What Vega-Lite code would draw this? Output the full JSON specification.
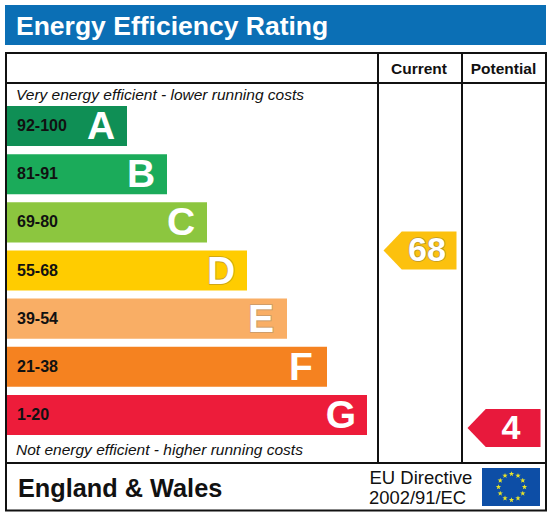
{
  "$schema": "https://vega.github.io/schema/vega-lite/v6.json",
  "width": 550,
  "height": 517,
  "autosize": {"type": "fit", "contains": "padding"},
  "padding": 0,
  "background": "white",
  "config": {"view": {"stroke": null}, "text": {"font": "Liberation Sans"}},
  "data": {"values": [{}]},
  "datasets": {
    "bands": [
      {"grade": "A", "range": "92-100", "length": 120},
      {"grade": "B", "range": "81-91", "length": 160},
      {"grade": "C", "range": "69-80", "length": 200},
      {"grade": "D", "range": "55-68", "length": 240},
      {"grade": "E", "range": "39-54", "length": 280},
      {"grade": "F", "range": "21-38", "length": 320},
      {"grade": "G", "range": "1-20", "length": 360}
    ],
    "ratings": [
      {"column": "Current", "score": 68, "grade": "D"},
      {"column": "Potential", "score": 4, "grade": "G"}
    ]
  },
  "resolve": {"scale": {"x": "independent", "y": "independent", "color": "independent", "stroke": "independent"}},
  "layer": [
    {
      "mark": {"type": "rect", "fill": "#0b6fb5"},
      "encoding": {
        "x": {"datum": 5, "type": "quantitative", "axis": null, "scale": {"domain": [0, 550], "range": [0, 550]}},
        "x2": {"datum": 546},
        "y": {"datum": 5, "type": "quantitative", "axis": null, "scale": {"domain": [0, 517], "range": [0, 517]}},
        "y2": {"datum": 45}
      }
    },
    {
      "mark": {"type": "text", "text": "Energy Efficiency Rating", "fontSize": 26.5, "fontWeight": "bold", "color": "white", "align": "left", "baseline": "alphabetic"},
      "encoding": {
        "x": {"datum": 16, "type": "quantitative", "axis": null, "scale": {"domain": [0, 550], "range": [0, 550]}},
        "y": {"datum": 35, "type": "quantitative", "axis": null, "scale": {"domain": [0, 517], "range": [0, 517]}}
      }
    },
    {
      "mark": {"type": "bar"},
      "data": {"name": "bands"},
      "encoding": {
        "x": {"field": "length", "type": "quantitative", "axis": null, "scale": {"domain": [0, 360], "range": [7, 367]}},
        "y": {"field": "grade", "type": "nominal", "axis": null, "scale": {"type": "band", "domain": ["A", "B", "C", "D", "E", "F", "G"], "range": [106, 435], "paddingInner": 0.1667, "paddingOuter": 0}},
        "color": {"field": "grade", "type": "nominal", "legend": null, "scale": {"domain": ["A", "B", "C", "D", "E", "F", "G"], "range": ["#0f8f55", "#1bab5a", "#8cc63f", "#ffcc00", "#f9ae65", "#f58220", "#ed1c3a"]}}
      }
    },
    {
      "mark": {"type": "text", "fontSize": 16, "fontWeight": "bold", "color": "#111111", "align": "left", "dx": 10},
      "data": {"name": "bands"},
      "encoding": {
        "x": {"datum": 0, "type": "quantitative", "axis": null, "scale": {"domain": [0, 360], "range": [7, 367]}},
        "y": {"field": "grade", "type": "nominal", "axis": null, "scale": {"type": "band", "domain": ["A", "B", "C", "D", "E", "F", "G"], "range": [106, 435], "paddingInner": 0.1667, "paddingOuter": 0}},
        "text": {"field": "range"}
      }
    },
    {
      "mark": {"type": "text", "fontSize": 39, "fontWeight": "bold", "fill": "white", "align": "center", "dx": -26, "dy": 1, "strokeWidth": 1.6},
      "data": {"name": "bands"},
      "encoding": {
        "x": {"field": "length", "type": "quantitative", "axis": null, "scale": {"domain": [0, 360], "range": [7, 367]}},
        "y": {"field": "grade", "type": "nominal", "axis": null, "scale": {"type": "band", "domain": ["A", "B", "C", "D", "E", "F", "G"], "range": [106, 435], "paddingInner": 0.1667, "paddingOuter": 0}},
        "stroke": {"field": "grade", "type": "nominal", "legend": null, "scale": {"domain": ["A", "B", "C", "D", "E", "F", "G"], "range": ["#0f8f55", "#1bab5a", "#8cc63f", "#c9a11a", "#c99a6a", "#f58220", "#ed1c3a"]}},
        "text": {"field": "grade"}
      }
    },
    {
      "mark": {"type": "text", "fontSize": 39, "fontWeight": "bold", "fill": "white", "align": "center", "dx": -26, "dy": 1},
      "data": {"name": "bands"},
      "encoding": {
        "x": {"field": "length", "type": "quantitative", "axis": null, "scale": {"domain": [0, 360], "range": [7, 367]}},
        "y": {"field": "grade", "type": "nominal", "axis": null, "scale": {"type": "band", "domain": ["A", "B", "C", "D", "E", "F", "G"], "range": [106, 435], "paddingInner": 0.1667, "paddingOuter": 0}},
        "text": {"field": "grade"}
      }
    },
    {
      "mark": {"type": "point", "filled": true, "opacity": 1, "shape": "M-1,0 L-0.5,-0.52 L1,-0.52 L1,0.52 L-0.5,0.52 Z", "size": 5329},
      "data": {"name": "ratings"},
      "encoding": {
        "x": {"field": "column", "type": "nominal", "axis": null, "scale": {"type": "point", "domain": ["Current", "Potential"], "range": [420, 504], "padding": 0}},
        "y": {"field": "score", "type": "quantitative", "axis": null, "scale": {"domain": [0, 100], "range": [439.1, 161.7]}},
        "color": {"field": "grade", "type": "nominal", "legend": null, "scale": {"domain": ["D", "G"], "range": ["#fcc10e", "#e8193c"]}}
      }
    },
    {
      "mark": {"type": "text", "fontSize": 34, "fontWeight": "bold", "fill": "white", "align": "center", "dx": 7, "dy": 1, "strokeWidth": 1.6},
      "data": {"name": "ratings"},
      "encoding": {
        "x": {"field": "column", "type": "nominal", "axis": null, "scale": {"type": "point", "domain": ["Current", "Potential"], "range": [420, 504], "padding": 0}},
        "y": {"field": "score", "type": "quantitative", "axis": null, "scale": {"domain": [0, 100], "range": [439.1, 161.7]}},
        "stroke": {"field": "grade", "type": "nominal", "legend": null, "scale": {"domain": ["D", "G"], "range": ["#b8962a", "#e8193c"]}},
        "text": {"field": "score"}
      }
    },
    {
      "mark": {"type": "text", "fontSize": 34, "fontWeight": "bold", "fill": "white", "align": "center", "dx": 7, "dy": 1},
      "data": {"name": "ratings"},
      "encoding": {
        "x": {"field": "column", "type": "nominal", "axis": null, "scale": {"type": "point", "domain": ["Current", "Potential"], "range": [420, 504], "padding": 0}},
        "y": {"field": "score", "type": "quantitative", "axis": null, "scale": {"domain": [0, 100], "range": [439.1, 161.7]}},
        "text": {"field": "score"}
      }
    },
    {
      "mark": {"type": "rect", "fill": null, "stroke": "#111111", "strokeWidth": 2},
      "encoding": {
        "x": {"datum": 6, "type": "quantitative", "axis": null, "scale": {"domain": [0, 550], "range": [0, 550]}},
        "x2": {"datum": 546},
        "y": {"datum": 53, "type": "quantitative", "axis": null, "scale": {"domain": [0, 517], "range": [0, 517]}},
        "y2": {"datum": 510.5}
      }
    },
    {
      "mark": {"type": "rule", "color": "#111111", "strokeWidth": 2},
      "encoding": {
        "x": {"datum": 6, "type": "quantitative", "axis": null, "scale": {"domain": [0, 550], "range": [0, 550]}},
        "x2": {"datum": 546},
        "y": {"datum": 83, "type": "quantitative", "axis": null, "scale": {"domain": [0, 517], "range": [0, 517]}}
      }
    },
    {
      "mark": {"type": "rule", "color": "#111111", "strokeWidth": 2},
      "encoding": {
        "x": {"datum": 6, "type": "quantitative", "axis": null, "scale": {"domain": [0, 550], "range": [0, 550]}},
        "x2": {"datum": 546},
        "y": {"datum": 463, "type": "quantitative", "axis": null, "scale": {"domain": [0, 517], "range": [0, 517]}}
      }
    },
    {
      "mark": {"type": "rule", "color": "#111111", "strokeWidth": 2},
      "encoding": {
        "x": {"datum": 378, "type": "quantitative", "axis": null, "scale": {"domain": [0, 550], "range": [0, 550]}},
        "y": {"datum": 53, "type": "quantitative", "axis": null, "scale": {"domain": [0, 517], "range": [0, 517]}},
        "y2": {"datum": 463}
      }
    },
    {
      "mark": {"type": "rule", "color": "#111111", "strokeWidth": 2},
      "encoding": {
        "x": {"datum": 462, "type": "quantitative", "axis": null, "scale": {"domain": [0, 550], "range": [0, 550]}},
        "y": {"datum": 53, "type": "quantitative", "axis": null, "scale": {"domain": [0, 517], "range": [0, 517]}},
        "y2": {"datum": 463}
      }
    },
    {
      "mark": {"type": "text", "text": "Current", "fontSize": 15.5, "fontWeight": "bold", "color": "#111111", "align": "center", "baseline": "alphabetic"},
      "encoding": {
        "x": {"datum": 419, "type": "quantitative", "axis": null, "scale": {"domain": [0, 550], "range": [0, 550]}},
        "y": {"datum": 74, "type": "quantitative", "axis": null, "scale": {"domain": [0, 517], "range": [0, 517]}}
      }
    },
    {
      "mark": {"type": "text", "text": "Potential", "fontSize": 15.5, "fontWeight": "bold", "color": "#111111", "align": "center", "baseline": "alphabetic"},
      "encoding": {
        "x": {"datum": 503.5, "type": "quantitative", "axis": null, "scale": {"domain": [0, 550], "range": [0, 550]}},
        "y": {"datum": 74, "type": "quantitative", "axis": null, "scale": {"domain": [0, 517], "range": [0, 517]}}
      }
    },
    {
      "mark": {"type": "text", "text": "Very energy efficient - lower running costs", "fontSize": 15.5, "fontStyle": "italic", "color": "#111111", "align": "left", "baseline": "alphabetic"},
      "encoding": {
        "x": {"datum": 16, "type": "quantitative", "axis": null, "scale": {"domain": [0, 550], "range": [0, 550]}},
        "y": {"datum": 100, "type": "quantitative", "axis": null, "scale": {"domain": [0, 517], "range": [0, 517]}}
      }
    },
    {
      "mark": {"type": "text", "text": "Not energy efficient - higher running costs", "fontSize": 15.5, "fontStyle": "italic", "color": "#111111", "align": "left", "baseline": "alphabetic"},
      "encoding": {
        "x": {"datum": 16, "type": "quantitative", "axis": null, "scale": {"domain": [0, 550], "range": [0, 550]}},
        "y": {"datum": 455, "type": "quantitative", "axis": null, "scale": {"domain": [0, 517], "range": [0, 517]}}
      }
    },
    {
      "mark": {"type": "text", "text": "England & Wales", "fontSize": 25.3, "fontWeight": "bold", "color": "#111111", "align": "left", "baseline": "alphabetic"},
      "encoding": {
        "x": {"datum": 18, "type": "quantitative", "axis": null, "scale": {"domain": [0, 550], "range": [0, 550]}},
        "y": {"datum": 497, "type": "quantitative", "axis": null, "scale": {"domain": [0, 517], "range": [0, 517]}}
      }
    },
    {
      "mark": {"type": "text", "text": "EU Directive", "fontSize": 18.5, "color": "#111111", "align": "left", "baseline": "alphabetic"},
      "encoding": {
        "x": {"datum": 369.5, "type": "quantitative", "axis": null, "scale": {"domain": [0, 550], "range": [0, 550]}},
        "y": {"datum": 484, "type": "quantitative", "axis": null, "scale": {"domain": [0, 517], "range": [0, 517]}}
      }
    },
    {
      "mark": {"type": "text", "text": "2002/91/EC", "fontSize": 18.4, "color": "#111111", "align": "left", "baseline": "alphabetic"},
      "encoding": {
        "x": {"datum": 369, "type": "quantitative", "axis": null, "scale": {"domain": [0, 550], "range": [0, 550]}},
        "y": {"datum": 504, "type": "quantitative", "axis": null, "scale": {"domain": [0, 517], "range": [0, 517]}}
      }
    },
    {
      "mark": {"type": "rect", "fill": "#0d4ea6"},
      "encoding": {
        "x": {"datum": 482, "type": "quantitative", "axis": null, "scale": {"domain": [0, 550], "range": [0, 550]}},
        "x2": {"datum": 540},
        "y": {"datum": 468, "type": "quantitative", "axis": null, "scale": {"domain": [0, 517], "range": [0, 517]}},
        "y2": {"datum": 506}
      }
    },
    {
      "mark": {
        "type": "point",
        "filled": true,
        "opacity": 1,
        "color": "#e6e32a",
        "size": 900,
        "shape": "M0,-1.057 l0.044,0.129 l0.137,0.002 l-0.11,0.082 l0.041,0.131 l-0.112,-0.079 l-0.112,0.079 l0.041,-0.131 l-0.11,-0.082 l0.137,-0.002 Z M0.433,-0.941 l0.044,0.129 l0.137,0.002 l-0.11,0.082 l0.041,0.131 l-0.112,-0.079 l-0.112,0.079 l0.041,-0.131 l-0.11,-0.082 l0.137,-0.002 Z M0.751,-0.623 l0.044,0.129 l0.137,0.002 l-0.11,0.082 l0.041,0.131 l-0.112,-0.079 l-0.112,0.079 l0.041,-0.131 l-0.11,-0.082 l0.137,-0.002 Z M0.867,-0.19 l0.044,0.129 l0.137,0.002 l-0.11,0.082 l0.041,0.131 l-0.112,-0.079 l-0.112,0.079 l0.041,-0.131 l-0.11,-0.082 l0.137,-0.002 Z M0.751,0.243 l0.044,0.129 l0.137,0.002 l-0.11,0.082 l0.041,0.131 l-0.112,-0.079 l-0.112,0.079 l0.041,-0.131 l-0.11,-0.082 l0.137,-0.002 Z M0.433,0.561 l0.044,0.129 l0.137,0.002 l-0.11,0.082 l0.041,0.131 l-0.112,-0.079 l-0.112,0.079 l0.041,-0.131 l-0.11,-0.082 l0.137,-0.002 Z M0,0.677 l0.044,0.129 l0.137,0.002 l-0.11,0.082 l0.041,0.131 l-0.112,-0.079 l-0.112,0.079 l0.041,-0.131 l-0.11,-0.082 l0.137,-0.002 Z M-0.433,0.561 l0.044,0.129 l0.137,0.002 l-0.11,0.082 l0.041,0.131 l-0.112,-0.079 l-0.112,0.079 l0.041,-0.131 l-0.11,-0.082 l0.137,-0.002 Z M-0.751,0.243 l0.044,0.129 l0.137,0.002 l-0.11,0.082 l0.041,0.131 l-0.112,-0.079 l-0.112,0.079 l0.041,-0.131 l-0.11,-0.082 l0.137,-0.002 Z M-0.867,-0.19 l0.044,0.129 l0.137,0.002 l-0.11,0.082 l0.041,0.131 l-0.112,-0.079 l-0.112,0.079 l0.041,-0.131 l-0.11,-0.082 l0.137,-0.002 Z M-0.751,-0.623 l0.044,0.129 l0.137,0.002 l-0.11,0.082 l0.041,0.131 l-0.112,-0.079 l-0.112,0.079 l0.041,-0.131 l-0.11,-0.082 l0.137,-0.002 Z M-0.433,-0.941 l0.044,0.129 l0.137,0.002 l-0.11,0.082 l0.041,0.131 l-0.112,-0.079 l-0.112,0.079 l0.041,-0.131 l-0.11,-0.082 l0.137,-0.002 Z"
      },
      "encoding": {
        "x": {"datum": 511.5, "type": "quantitative", "axis": null, "scale": {"domain": [0, 550], "range": [0, 550]}},
        "y": {"datum": 487, "type": "quantitative", "axis": null, "scale": {"domain": [0, 517], "range": [0, 517]}}
      }
    }
  ]
}
